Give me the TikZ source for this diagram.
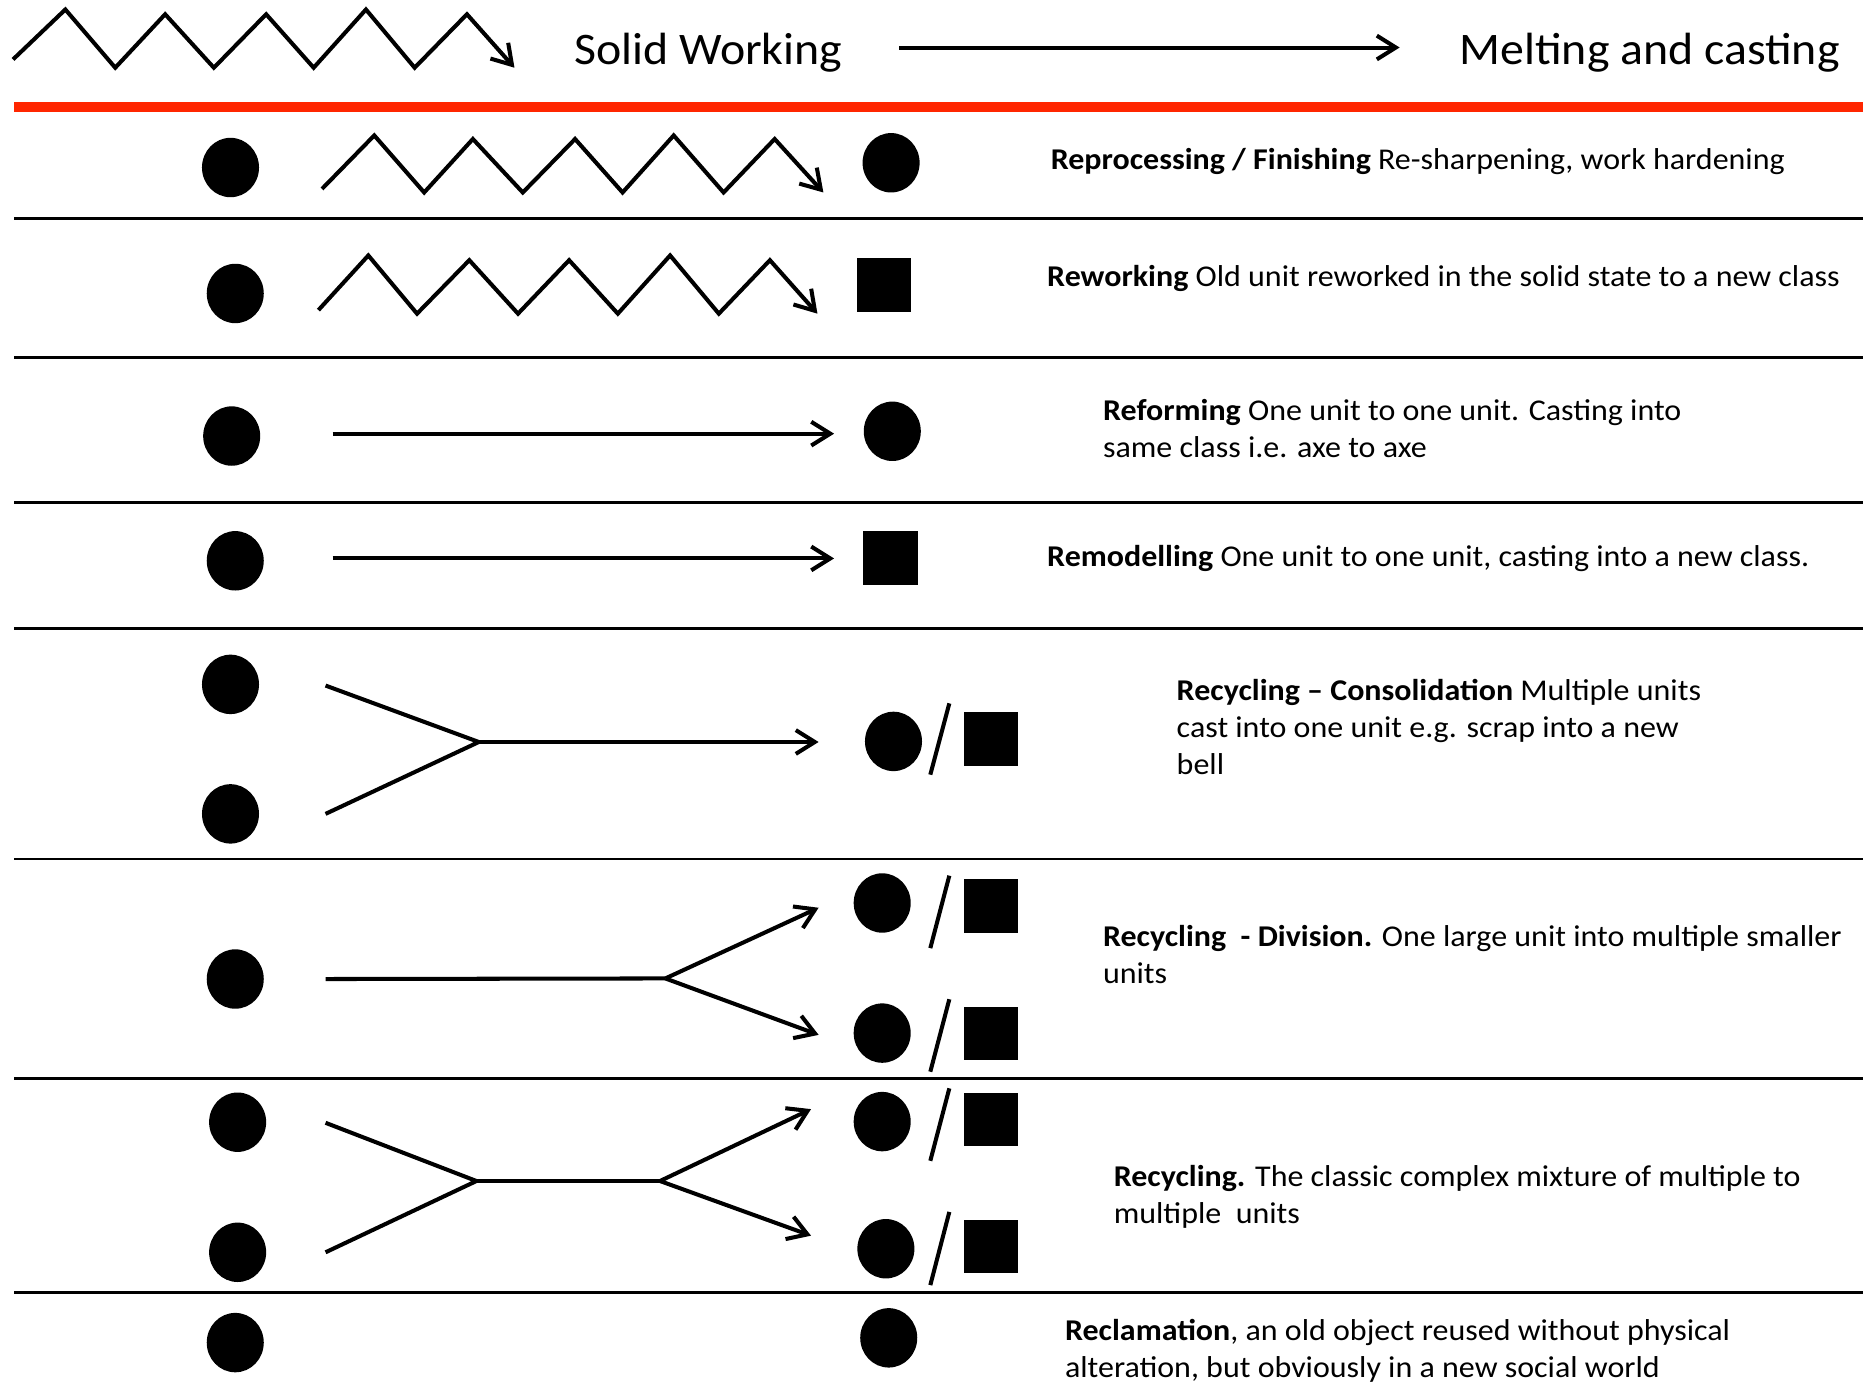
\documentclass[tikz,border=0pt]{standalone}
\usepackage{fontspec}
\setmainfont{Carlito}[FakeStretch=1.06]
\usetikzlibrary{arrows.meta,shapes.geometric}
\definecolor{hdrred}{RGB}{255,38,0}
\begin{document}
\begin{tikzpicture}[x=0.5pt,y=-0.5pt,
  unit/.style={ellipse,fill=black,inner sep=0pt,minimum width=24pt,minimum height=25pt},
  cls/.style={rectangle,fill=black,inner sep=0pt,minimum width=23pt,minimum height=22.5pt},
  flow/.style={line width=1.7pt,-{Straight Barb[length=8pt,width=10pt]}},
  plain/.style={line width=1.7pt},
  zz/.style={line width=1.7pt,miter limit=10,-{Straight Barb[length=8pt,width=10pt]}},
  slash/.style={line width=1.7pt},
  sep/.style={line width=1.2pt},
  desc/.style={anchor=west,align=left,inner sep=0pt,font=\fontsize{12.7}{15.5}\selectfont},
  head/.style={anchor=west,inner sep=0pt,font=\fontsize{19}{23}\selectfont}]
\useasboundingbox (0,0) rectangle (1568,1166);

% ---------- header ----------
\draw[zz] (11,50) -- (55,8) -- (97,57) -- (139,12) -- (180,57) -- (224,12) -- (264,57) -- (308,8) -- (349,57) -- (393,12) -- (433,57);
\node[head] (hsolid) at (483,44) {Solid Working};
\node[head] (hmelt) at (1228,44) {Melting and casting};
\coordinate (ha) at (757,40);
\coordinate (hb) at (1178,40);
\draw[flow] (ha) -- (hb);
\draw[hdrred,line width=4pt] (12,90) -- (1568,90);

% ---------- separators ----------
\foreach \yy in {184,301,423,529,723,908,1088}
  \draw[sep] (12,\yy) -- (1568,\yy);

% ---------- row 1: Reprocessing ----------
\node[unit] (r1a) at (194,141) {};
\node[unit] (r1b) at (750,137) {};
\draw[zz] (271,159) -- (315,114) -- (357,162) -- (398,117) -- (440,162) -- (484,117) -- (524,162) -- (567,114) -- (609,162) -- (652,117) -- (693,162);
\node[desc] (t1) at (884,136) {\textbf{Reprocessing / Finishing} Re-sharpening, work hardening};

% ---------- row 2: Reworking ----------
\node[unit] (r2a) at (198,247) {};
\node[cls] (r2b) at (744,240) {};
\draw[zz] (268,261) -- (310,215) -- (351,264) -- (395,219) -- (436,264) -- (479,219) -- (520,264) -- (564,215) -- (605,264) -- (648,219) -- (688,264);
\node[desc] (t2) at (881,234) {\textbf{Reworking} Old unit reworked in the solid state to a new class};

% ---------- row 3: Reforming ----------
\node[unit] (r3a) at (195,367) {};
\node[unit] (r3b) at (751,363) {};
\coordinate (r3s) at (280,365);
\coordinate (r3e) at (702,365);
\draw[flow] (r3s) -- (r3e);
\node[desc] (t3) at (928,361) {\textbf{Reforming} One unit to one unit. Casting into\\same class i.e. axe to axe};

% ---------- row 4: Remodelling ----------
\node[unit] (r4a) at (198,472) {};
\node[cls] (r4b) at (749.5,469.5) {};
\coordinate (r4s) at (280,470);
\coordinate (r4e) at (702,470);
\draw[flow] (r4s) -- (r4e);
\node[desc] (t4) at (881,470) {\textbf{Remodelling} One unit to one unit, casting into a new class.};

% ---------- row 5: Consolidation ----------
\node[unit] (r5a) at (194,576) {};
\node[unit] (r5b) at (194,685) {};
\coordinate (r5s1) at (274,577);
\coordinate (r5s2) at (274,685);
\coordinate (r5j) at (403,624.5);
\coordinate (r5e) at (689,624.5);
\draw[plain] (r5s1) -- (r5j) -- (r5s2);
\draw[flow] (r5j) -- (r5e);
\node[unit] (r5c) at (752,624) {};
\draw[slash] (783,652) -- (799,592);
\node[cls] (r5d) at (834,622) {};
\node[desc] (t5) at (990,612) {\textbf{Recycling – Consolidation} Multiple units\\cast into one unit e.g. scrap into a new\\bell};

% ---------- row 6: Division ----------
\node[unit] (r6a) at (198,824) {};
\coordinate (r6s) at (274,824);
\coordinate (r6j) at (560,823.5);
\coordinate (r6e1) at (689,764);
\coordinate (r6e2) at (689,871);
\draw[plain] (r6s) -- (r6j);
\draw[flow] (r6j) -- (r6e1);
\draw[flow] (r6j) -- (r6e2);
\node[unit] (r6b) at (742.5,760) {};
\draw[slash] (783,798) -- (799,737);
\node[cls] (r6c) at (834,762.5) {};
\node[unit] (r6d) at (742.5,869.5) {};
\draw[slash] (783,902) -- (799,841);
\node[cls] (r6e) at (834,870) {};
\node[desc] (t6) at (928,803.5) {\textbf{Recycling\ \ - Division.} One large unit into multiple smaller\\units};

% ---------- row 7: Recycling ----------
\node[unit] (r7a) at (200,944.5) {};
\node[unit] (r7b) at (200,1054) {};
\coordinate (r7s1) at (274,945);
\coordinate (r7s2) at (274,1054);
\coordinate (r7j1) at (401,994);
\coordinate (r7j2) at (555.5,994);
\coordinate (r7e1) at (682.6,933.5);
\coordinate (r7e2) at (682.6,1040);
\draw[plain] (r7s1) -- (r7j1) -- (r7s2);
\draw[plain] (r7j1) -- (r7j2);
\draw[flow] (r7j2) -- (r7e1);
\draw[flow] (r7j2) -- (r7e2);
\node[unit] (r7c) at (742.5,944) {};
\draw[slash] (783,977) -- (799,916);
\node[cls] (r7d) at (834,942) {};
\node[unit] (r7e) at (745.6,1051) {};
\draw[slash] (783,1081.6) -- (799,1020);
\node[cls] (r7f) at (834,1049) {};
\node[desc] (t7) at (937,1007) {\textbf{Recycling.} The classic complex mixture of multiple to\\multiple\ \ units};

% ---------- row 8: Reclamation ----------
\node[unit] (r8a) at (198,1130) {};
\node[unit] (r8b) at (748,1126) {};
\node[desc] (t8) at (896,1137) {\textbf{Reclamation}, an old object reused without physical\\alteration, but obviously in a new social world};
\end{tikzpicture}
\end{document}
